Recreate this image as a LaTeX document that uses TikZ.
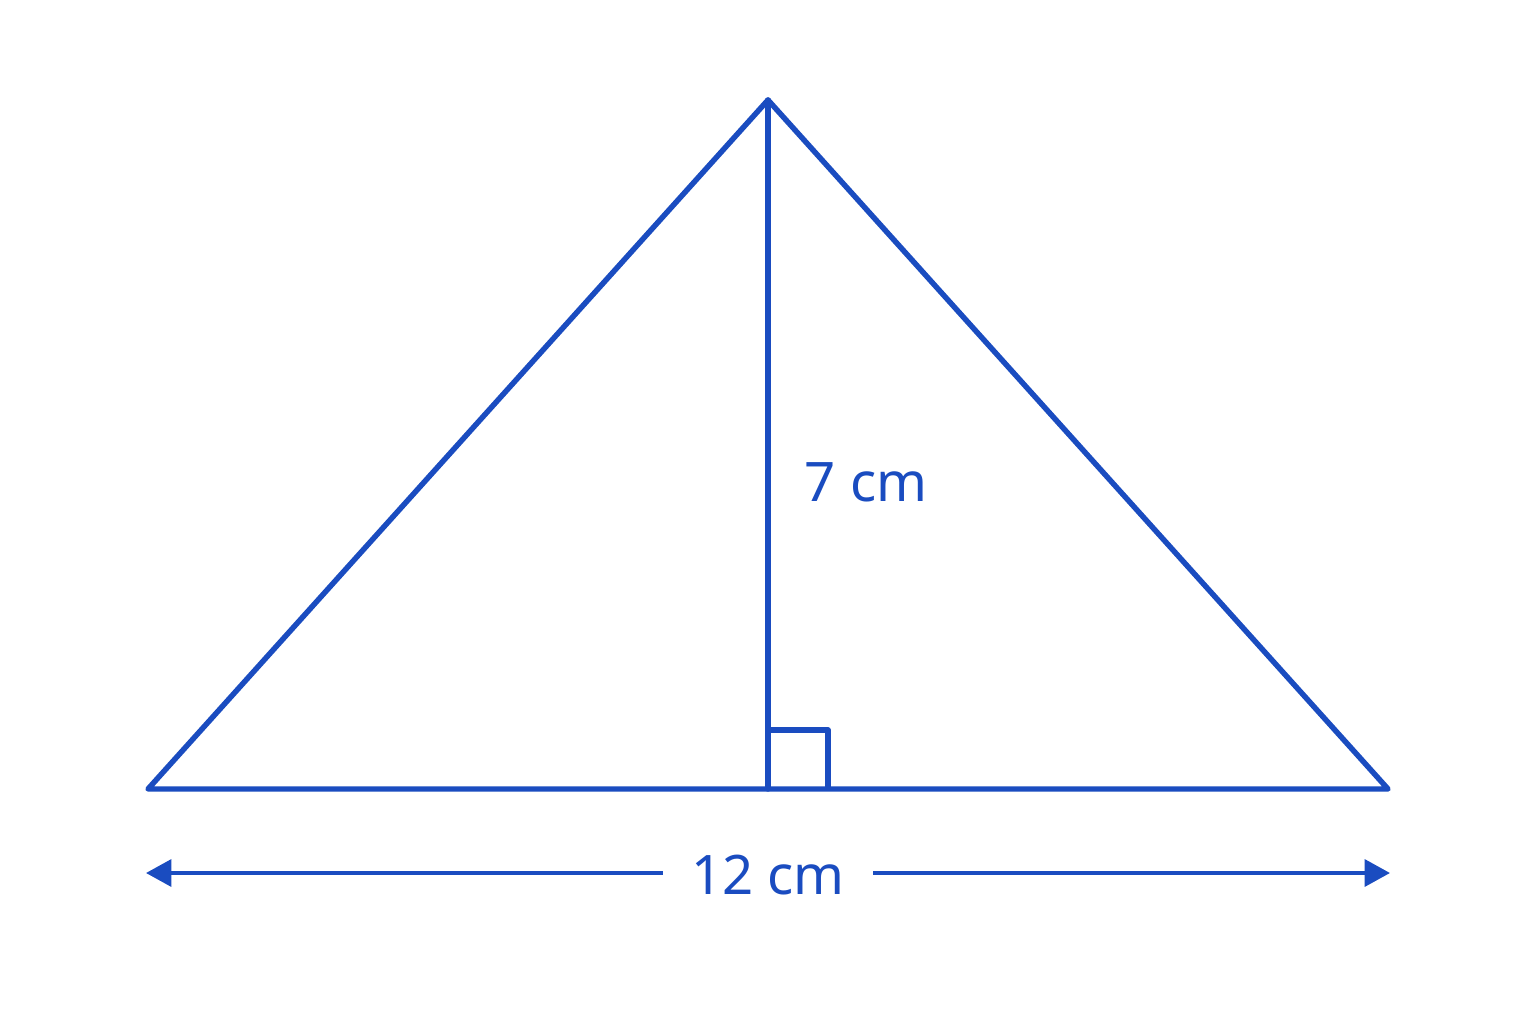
\documentclass[tikz,border=0pt]{standalone}
\usepackage{fontspec}
\setmainfont{Noto Sans}
\usetikzlibrary{arrows.meta}
\definecolor{ink}{RGB}{26,76,192}
\tikzset{
  edge/.style={draw=ink, line width=1.55pt, line join=round, line cap=round},
  dim/.style={draw=ink, line width=1.15pt},
  lbl/.style={text=ink, font=\fontsize{15.5}{18}\selectfont, inner sep=0pt},
  tip/.style={-{Triangle[length=7.2pt,width=7.6pt]}}
}
\begin{document}
\begin{tikzpicture}[x=0.01cm,y=-0.01cm]
\path[fill=white] (0,0) rectangle (1536,1024);
\useasboundingbox (0,0) rectangle (1536,1024);
\coordinate (A) at (768,100);
\coordinate (B) at (148,789);
\coordinate (C) at (1388,789);
\coordinate (H) at (768,789);
\coordinate (S1) at (768,730);
\coordinate (S2) at (828,730);
\coordinate (S3) at (828,789);
\coordinate (DL) at (146,873);
\coordinate (DR) at (1390,873);
\draw[edge] (A) -- (B) -- (C) -- cycle;
\draw[edge] (A) -- (H);
\draw[edge, line cap=butt] (S1) -- (S2) -- (S3);
\node[lbl, anchor=center] (h) at (866,482) {7 cm};
\node[lbl, inner xsep=7.9pt, inner ysep=0pt] (b) at (768,875) {12 cm};
\draw[dim, tip] (b.west |- DL) -- (DL);
\draw[dim, tip] (b.east |- DR) -- (DR);
\end{tikzpicture}
\end{document}
